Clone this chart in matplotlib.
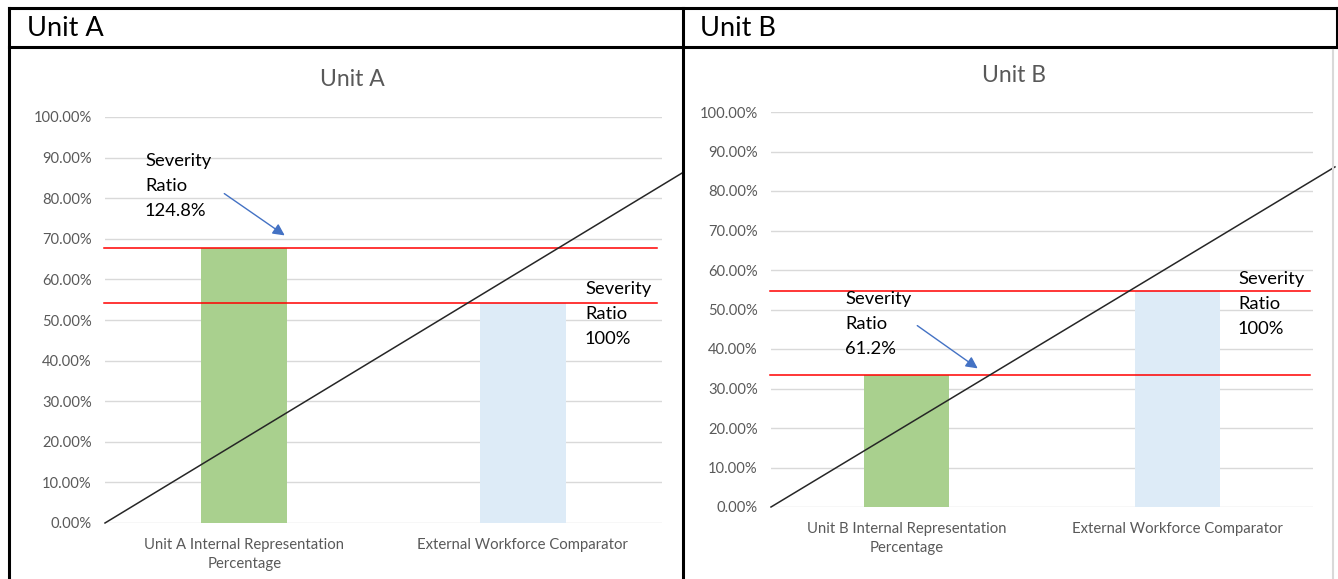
import matplotlib

matplotlib.use("Agg")
import matplotlib.pyplot as plt
from matplotlib.lines import Line2D
from matplotlib.patches import FancyArrowPatch
from matplotlib.ticker import FuncFormatter

W, H = 1338, 579
plt.rcParams["font.family"] = ["Lato", "DejaVu Sans"]

# data
cats_a = ["Unit A Internal Representation\nPercentage", "External Workforce Comparator"]
cats_b = ["Unit B Internal Representation\nPercentage", "External Workforce Comparator"]
vals_a = [0.678, 0.543]
vals_b = [0.334, 0.546]
bar_colors = ["#A9D08E", "#DDEBF7"]
yticks = [i / 10 for i in range(11)]
# hand-drawn diagonal shape (data coords, runs past the plot area)
diag_a_x, diag_a_y = [-0.5, 1.572], [0.0, 0.862]
diag_b_x, diag_b_y = [-0.5, 1.581], [0.0, 0.861]
notes_a = ["Severity\nRatio\n124.8%", "Severity\nRatio\n100%"]
notes_b = ["Severity\nRatio\n61.2%", "Severity\nRatio\n100%"]

GREY = "#595959"


def fx(x):
    return x / W


def fy(y):
    return 1 - y / H


def panel(fig, box, title, title_xy, cats, vals, diag_x, diag_y, red_xmax, notes, note_xy, arrow):
    left, top, right, bottom = box
    ax = fig.add_axes([fx(left), fy(bottom), fx(right - left), (bottom - top) / H])
    ax.bar(range(len(vals)), vals, width=0.31, color=bar_colors, zorder=2)
    ax.set_xlim(-0.5, 1.5)
    ax.set_ylim(0, 1.0)
    ax.set_yticks(yticks)
    ax.yaxis.set_major_formatter(FuncFormatter(lambda v, p: f"{v * 100:.2f}%"))
    ax.set_xticks(range(len(cats)))
    ax.set_xticklabels(cats, fontsize=10.7, color=GREY, linespacing=1.45)
    ax.tick_params(axis="y", length=0, pad=9.5, labelsize=10.6, labelcolor=GREY)
    ax.tick_params(axis="x", length=0, pad=11)
    ax.grid(axis="y", color="#D9D9D9", lw=1.0, zorder=0)
    for s in ax.spines.values():
        s.set_visible(False)
    for v in vals:
        ax.plot([-0.505, red_xmax], [v, v], color="#FF0000", lw=1.1, zorder=3, clip_on=False)
    ax.plot(diag_x, diag_y, color="#262626", lw=1.1, zorder=4, clip_on=False)
    fig.text(fx(title_xy[0]), fy(title_xy[1]), title, fontsize=16.5, color=GREY, ha="center", va="center")
    for t, (x, y) in zip(notes, note_xy):
        fig.text(fx(x), fy(y), t, fontsize=13.2, color="black", ha="left", va="top", linespacing=1.7)
    (x0, y0), (x1, y1) = arrow
    fig.patches.append(
        FancyArrowPatch(
            (fx(x0), fy(y0)), (fx(x1), fy(y1)), transform=fig.transFigure,
            arrowstyle="-|>,head_length=7,head_width=3.5", color="#4472C4", lw=1.0,
        )
    )
    return ax


fig = plt.figure(figsize=(W / 100, H / 100), dpi=100)

panel(fig, (105, 117, 662, 523), "Unit A", (352, 80), cats_a, vals_a, diag_a_x, diag_a_y, 1.482,
      notes_a, [(145, 153), (585, 281)], ((222, 192), (287, 237)))
panel(fig, (771, 112, 1313, 507), "Unit B", (1014, 75), cats_b, vals_b, diag_b_x, diag_b_y, 1.489,
      notes_b, [(845, 291), (1238, 271)], ((915, 324), (980, 370)))

# table borders
lk = dict(color="black", lw=2.2, transform=fig.transFigure)
for seg in [((9, 8), (1337, 8)), ((9, 47), (1337, 47)), ((9, 8), (9, 579)),
            ((683, 8), (683, 579)), ((1337, 8), (1337, 47))]:
    (x0, y0), (x1, y1) = seg
    fig.add_artist(Line2D([fx(x0), fx(x1)], [fy(y0), fy(y1)], **lk))
fig.add_artist(Line2D([fx(1333), fx(1333)], [fy(50), fy(579)], color="#D9D9D9", lw=1.5,
                      transform=fig.transFigure))

fig.text(fx(27), fy(28), "Unit A", fontsize=19.5, ha="left", va="center")
fig.text(fx(700), fy(28), "Unit B", fontsize=19.5, ha="left", va="center")

fig.savefig("out.png", dpi=100)
